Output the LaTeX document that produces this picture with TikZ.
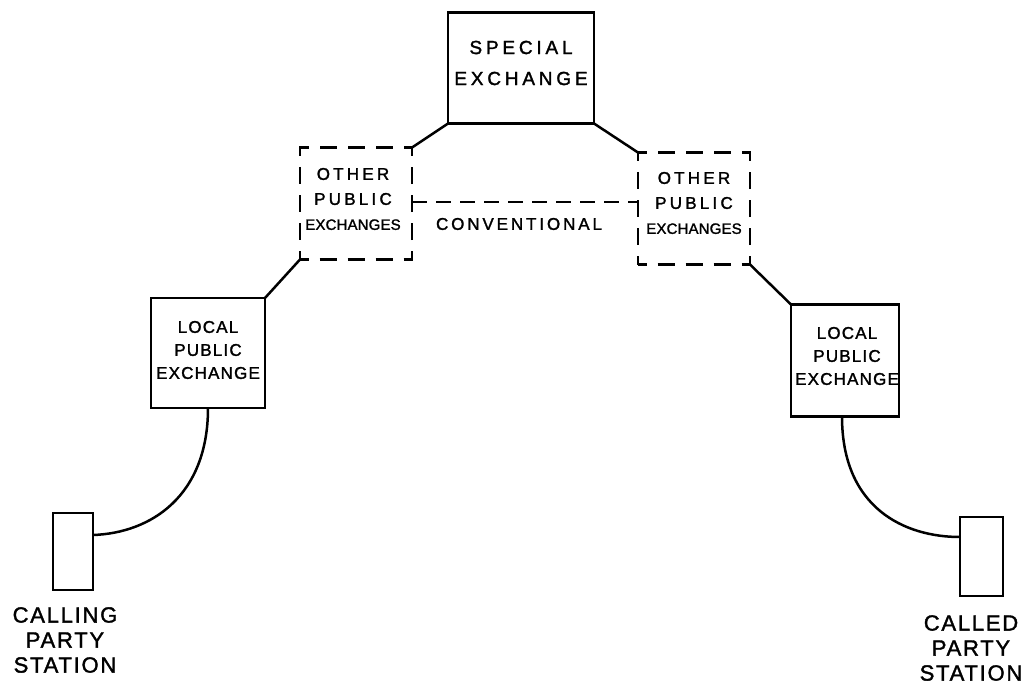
\documentclass[tikz,border=0pt]{standalone}
\usepackage{fontspec}
\newfontfamily\hand[FakeBold=1.6]{Liberation Sans}
\begin{document}
\begin{tikzpicture}[x=1pt,y=-1pt,
  solidbox/.style={draw, line width=2.8pt, inner sep=0pt, outer sep=0pt},
  dashbox/.style={draw, line width=2.4pt, dash pattern=on 17pt off 11pt, dash phase=8.5pt, inner sep=0pt, outer sep=0pt},
  stationbox/.style={draw, line width=2.5pt, inner sep=0pt, outer sep=0pt},
  link/.style={line width=2.5pt},
  dashline/.style={line width=2.4pt, dash pattern=on 15pt off 9pt},
  txt/.style={align=center, inner sep=0pt},
  bigtxt/.style={txt, font={\hand\fontsize{19}{31}\selectfont\addfontfeature{LetterSpace=20}}},
  othtxt/.style={txt, font={\hand\fontsize{17}{25}\selectfont\addfontfeature{LetterSpace=19}}},
  loctxt/.style={txt, font={\hand\fontsize{17}{23}\selectfont\addfontfeature{LetterSpace=7}}},
  labtxt/.style={txt, font={\hand\fontsize{22}{25}\selectfont\addfontfeature{LetterSpace=8}}},
  convtxt/.style={txt, font={\hand\fontsize{17}{20}\selectfont\addfontfeature{LetterSpace=17}}}
]
\useasboundingbox (0,0) rectangle (1032,687);

% boxes
\node[solidbox, minimum width=146pt, minimum height=111pt] (sp) at (521,68) {};
\node[dashbox, minimum width=112pt, minimum height=112pt] (oL) at (356,203.5) {};
\node[dashbox, minimum width=112pt, minimum height=112pt] (oR) at (694,208.5) {};
\node[solidbox, minimum width=114pt, minimum height=110pt] (lL) at (208,353) {};
\node[solidbox, minimum width=108pt, minimum height=112pt] (lR) at (845,360.5) {};
\node[stationbox, minimum width=40pt, minimum height=77pt] (stL) at (73,551.5) {};
\node[stationbox, minimum width=43pt, minimum height=79pt] (stR) at (981.5,556.5) {};

% texts
\node[bigtxt] (spt) at (521,63) {SPECIAL\\EXCHANGE};
\node[othtxt] (oLt) at (353,199) {OTHER\\PUBLIC\\{\fontsize{15}{25}\selectfont\addfontfeature{LetterSpace=1}EXCHANGES}};
\node[othtxt] (oRt) at (694,203) {OTHER\\PUBLIC\\{\fontsize{15}{25}\selectfont\addfontfeature{LetterSpace=1}EXCHANGES}};
\node[loctxt] (lLt) at (208,350) {LOCAL\\PUBLIC\\EXCHANGE};
\node[loctxt] (lRt) at (847,356) {LOCAL\\PUBLIC\\EXCHANGE};
\node[convtxt] (conv) at (519,224) {CONVENTIONAL};
\node[labtxt] (labL) at (65,640) {CALLING\\PARTY\\STATION};
\node[labtxt] (labR) at (971,648) {CALLED\\PARTY\\STATION};

% connectors
\draw[link] (sp.south west) -- (oL.north east);
\draw[link] (sp.south east) -- (oR.north west);
\draw[link] (oL.south west) -- (lL.north east);
\draw[link] (oR.south east) -- (lR.north west);
\draw[dashline] ([yshift=1.5pt]oL.east) -- ([yshift=1.5pt]oL.east -| oR.west);
\draw[link] (lL.south) .. controls +(0,88) and +(58,-2) .. ([yshift=-22pt]stL.north east);
\draw[link] ([xshift=-3pt]lR.south) .. controls +(0,92) and +(-55,0) .. ([yshift=-20pt]stR.north west);
\end{tikzpicture}
\end{document}
